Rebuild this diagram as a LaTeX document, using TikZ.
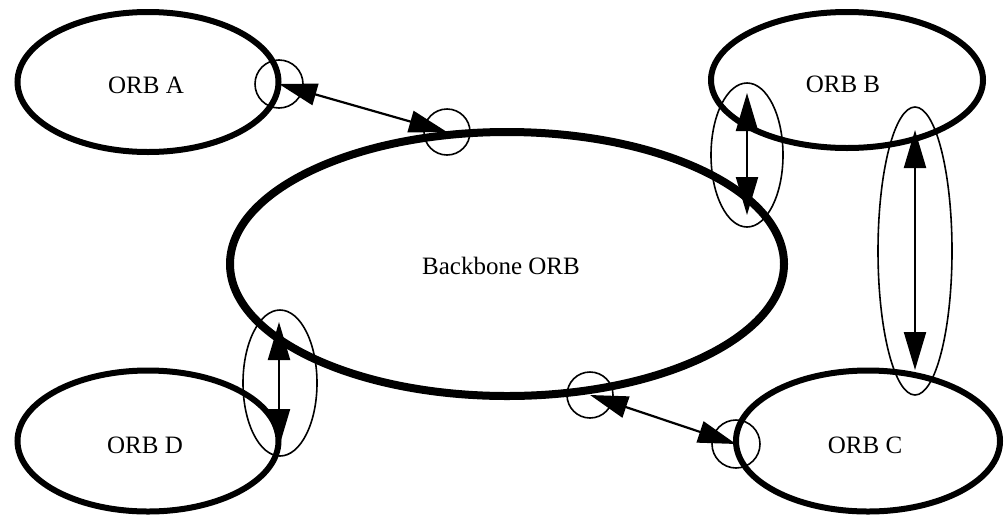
\documentclass[tikz,border=0pt]{standalone}
\usepackage{fontspec}
\setmainfont{Liberation Serif}
\usetikzlibrary{arrows.meta,shapes.geometric}
\begin{document}
\begin{tikzpicture}[x=1pt,y=-1pt,
    orb/.style={ellipse, draw, line width=6pt, inner sep=0pt},
    joint/.style={circle, draw, line width=1.6pt, inner sep=0pt},
    loop/.style={ellipse, draw, line width=1.6pt, inner sep=0pt},
    link/.style={line width=2.2pt, {Triangle[length=38pt,width=22pt]}-{Triangle[length=38pt,width=22pt]}},
    tag/.style={font=\fontsize{25}{28}\selectfont}]
  \useasboundingbox (0,0) rectangle (1008,517);
  % the ORBs
  \node[orb, minimum width=261, minimum height=140] (orbA) at (148,82) {};
  \node[orb, minimum width=272, minimum height=136] (orbB) at (847,80) {};
  \node[orb, minimum width=261, minimum height=141] (orbD) at (148,441) {};
  \node[orb, minimum width=264, minimum height=141] (orbC) at (868,441) {};
  \node[orb, line width=8pt, minimum width=554, minimum height=264] (bb) at (507,264) {};
  \node[tag] (tA) at (146,85) {ORB A};
  \node[tag] (tB) at (843,84) {ORB B};
  \node[tag] (tD) at (145,445) {ORB D};
  \node[tag] (tC) at (865,445) {ORB C};
  \node[tag] (tbb) at (501,266) {Backbone ORB};
  % bridges
  \node[joint, minimum size=48] (jA) at (279,84) {};
  \node[joint, minimum size=46] (jbbA) at (447,132) {};
  \node[joint, minimum size=46] (jbbC) at (590,395) {};
  \node[joint, minimum size=48] (jC) at (736,444) {};
  \node[loop, minimum width=72, minimum height=144] (lB) at (747,155) {};
  \node[loop, minimum width=74, minimum height=288] (lBC) at (915,251) {};
  \node[loop, minimum width=74, minimum height=146] (lD) at (280,383) {};
  \coordinate (lBtop) at (747,93);
  \coordinate (lBbot) at (747,215);
  \coordinate (lBCtop) at (915,130);
  \coordinate (lBCbot) at (915,370);
  \coordinate (lDtop) at (279,322);
  \coordinate (lDbot) at (279,447);
  \draw[link] (jA.center) -- (jbbA.center);
  \draw[link] (jbbC.center) -- (jC.center);
  \draw[link] (lBtop) -- (lBbot);
  \draw[link] (lBCtop) -- (lBCbot);
  \draw[link] (lDtop) -- (lDbot);
\end{tikzpicture}
\end{document}
